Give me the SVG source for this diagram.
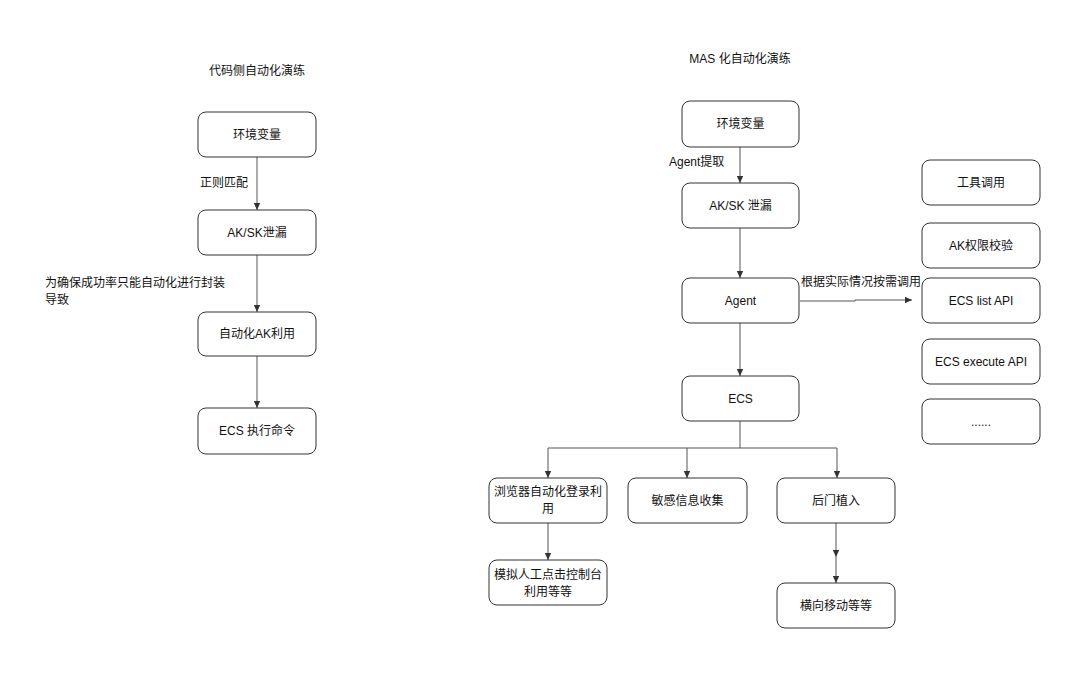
<svg xmlns="http://www.w3.org/2000/svg" width="1080" height="680" viewBox="0 0 1080 680">
<style>
.box{fill:#fff;stroke:#333;stroke-width:1}
.t{font-family:"Liberation Sans","Noto Sans CJK SC",sans-serif;font-size:12px;fill:#111;text-anchor:middle;dominant-baseline:central}
.l{font-family:"Liberation Sans","Noto Sans CJK SC",sans-serif;font-size:12px;fill:#111;dominant-baseline:central}
.c{fill:none;stroke:#555;stroke-width:1}
</style>
<defs>
<marker id="ah" markerWidth="8" markerHeight="8" refX="7" refY="4" orient="auto" markerUnits="userSpaceOnUse">
<path d="M0,0.8 L7,4 L0,7.2 Z" fill="#333"/>
</marker>
</defs>
<rect width="1080" height="680" fill="#fff"/>
<text class="t" x="257" y="71">代码侧自动化演练</text>
<text class="t" x="740" y="59">MAS 化自动化演练</text>
<g id="connectors">
<path class="c" d="M257,157 V210" marker-end="url(#ah)"/>
<path class="c" d="M257,255 V312" marker-end="url(#ah)"/>
<path class="c" d="M257,356 V408" marker-end="url(#ah)"/>
<path class="c" d="M740,147 V183" marker-end="url(#ah)"/>
<path class="c" d="M740,228 V278" marker-end="url(#ah)"/>
<path class="c" d="M740,323 V376" marker-end="url(#ah)"/>
<path class="c" d="M800,301 H855 V300 H912" marker-end="url(#ah)"/>
<path class="c" d="M740,421 V448"/>
<path class="c" d="M548,448 H837"/>
<path class="c" d="M548,448 V478" marker-end="url(#ah)"/>
<path class="c" d="M687,448 V478" marker-end="url(#ah)"/>
<path class="c" d="M837,448 V478" marker-end="url(#ah)"/>
<path class="c" d="M548,523 V560" marker-end="url(#ah)"/>
<path class="c" d="M836,523 V557" marker-end="url(#ah)"/>
<path class="c" d="M836,557 V583" marker-end="url(#ah)"/>
</g>
<text class="l" x="200" y="183">正则匹配</text>
<text class="l" x="45" y="283">为确保成功率只能自动化进行封装</text>
<text class="l" x="45" y="300">导致</text>
<text class="l" x="669" y="162">Agent提取</text>
<text class="t" x="861" y="282">根据实际情况按需调用</text>
<g id="n_env_l"><rect class="box" x="198" y="112" width="118" height="45" rx="8"/><text class="t" x="257" y="134.5">环境变量</text></g>
<g id="n_aksk_l"><rect class="box" x="198" y="210" width="118" height="45" rx="8"/><text class="t" x="257" y="232.5">AK/SK泄漏</text></g>
<g id="n_auto_ak"><rect class="box" x="198" y="312" width="118" height="44" rx="8"/><text class="t" x="257" y="334">自动化AK利用</text></g>
<g id="n_ecs_cmd"><rect class="box" x="198" y="408" width="118" height="46" rx="8"/><text class="t" x="257" y="431">ECS 执行命令</text></g>
<g id="n_env_r"><rect class="box" x="682" y="101" width="117" height="46" rx="8"/><text class="t" x="740.5" y="124">环境变量</text></g>
<g id="n_aksk_r"><rect class="box" x="682" y="183" width="117" height="45" rx="8"/><text class="t" x="740.5" y="205.5">AK/SK 泄漏</text></g>
<g id="n_agent"><rect class="box" x="682" y="278" width="117" height="45" rx="8"/><text class="t" x="740.5" y="300.5">Agent</text></g>
<g id="n_ecs"><rect class="box" x="682" y="376" width="117" height="45" rx="8"/><text class="t" x="740.5" y="398.5">ECS</text></g>
<g id="n_tool"><rect class="box" x="922" y="160" width="118" height="45" rx="8"/><text class="t" x="981" y="182.5">工具调用</text></g>
<g id="n_akperm"><rect class="box" x="922" y="223" width="118" height="45" rx="8"/><text class="t" x="981" y="245.5">AK权限校验</text></g>
<g id="n_ecslist"><rect class="box" x="922" y="278" width="118" height="45" rx="8"/><text class="t" x="981" y="300.5">ECS list API</text></g>
<g id="n_ecsexec"><rect class="box" x="922" y="339" width="118" height="45" rx="8"/><text class="t" x="981" y="361.5">ECS execute API</text></g>
<g id="n_more"><rect class="box" x="922" y="399" width="118" height="45" rx="8"/><text class="t" x="981" y="421.5">......</text></g>
<g id="n_browser"><rect class="box" x="489" y="478" width="118" height="45" rx="8"/><text class="t" x="548" y="492">浏览器自动化登录利</text><text class="t" x="548" y="509">用</text></g>
<g id="n_sens"><rect class="box" x="628" y="478" width="119" height="45" rx="8"/><text class="t" x="687.5" y="500.5">敏感信息收集</text></g>
<g id="n_backdoor"><rect class="box" x="777" y="478" width="118" height="45" rx="8"/><text class="t" x="836" y="500.5">后门植入</text></g>
<g id="n_console"><rect class="box" x="489" y="560" width="118" height="45" rx="8"/><text class="t" x="548" y="575">模拟人工点击控制台</text><text class="t" x="548" y="592">利用等等</text></g>
<g id="n_lateral"><rect class="box" x="777" y="583" width="118" height="45" rx="8"/><text class="t" x="836" y="605.5">横向移动等等</text></g>
</svg>
